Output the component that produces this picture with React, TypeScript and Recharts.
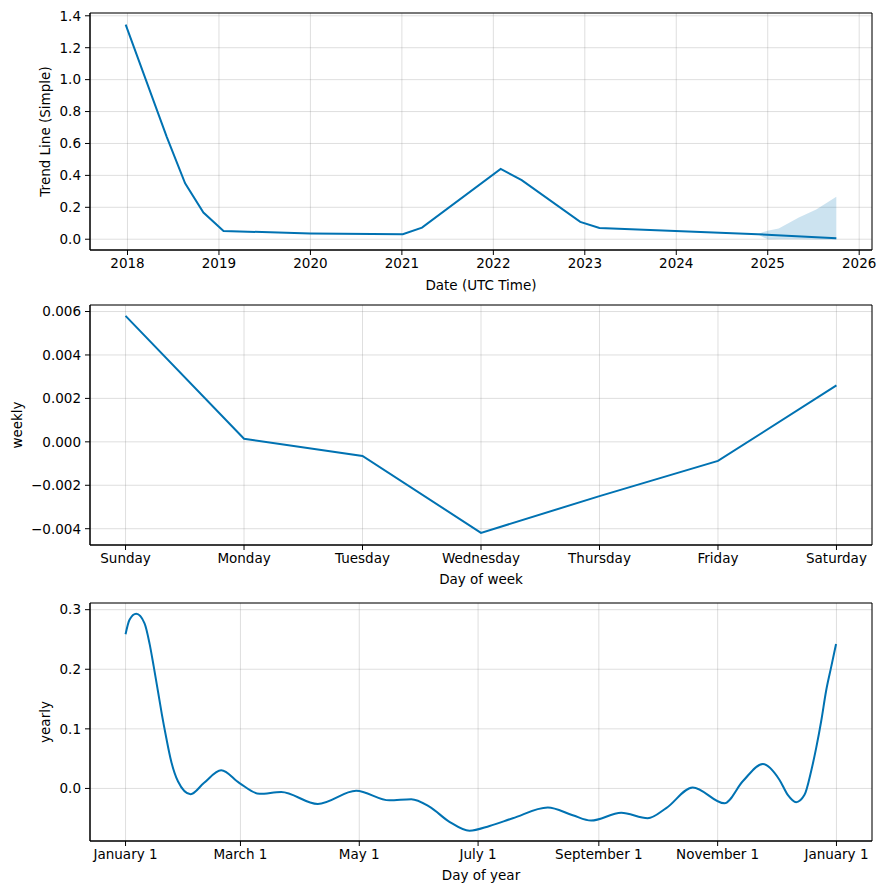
import {
  ComposedChart,
  LineChart,
  Line,
  Area,
  XAxis,
  YAxis,
  CartesianGrid,
  ReferenceArea,
} from 'recharts';

// trend component (decimal years)
const trendYears = [2017.98, 2018.43, 2018.63, 2018.83, 2019.05, 2020.0, 2021.01, 2021.22, 2022.08, 2022.31, 2022.95, 2023.16, 2024.89, 2025.75];
const trendValues = [1.345, 0.64, 0.35, 0.167, 0.052, 0.036, 0.031, 0.073, 0.441, 0.37, 0.109, 0.071, 0.031, 0.006];

// forecast uncertainty on the trend
const bandYears = [2024.89, 2024.95, 2025.01, 2025.12, 2025.34, 2025.53, 2025.75];
const bandLower = [0.031, 0.012, -0.002, 0.0, 0.0, -0.001, -0.002];
const bandUpper = [0.031, 0.045, 0.055, 0.067, 0.136, 0.186, 0.266];

const yearTicks = [2018, 2019, 2020, 2021, 2022, 2023, 2024, 2025, 2026];
const trendTicks = [0, 0.2, 0.4, 0.6, 0.8, 1.0, 1.2, 1.4];

// weekly component
const weekDays = ['Sunday', 'Monday', 'Tuesday', 'Wednesday', 'Thursday', 'Friday', 'Saturday'];
const weeklyValues = [0.0058, 0.00014, -0.00065, -0.00419, -0.0025, -0.00088, 0.0026];
const weeklyTicks = [-0.004, -0.002, 0, 0.002, 0.004, 0.006];

// yearly component (day of year)
const yearlyDays = [0, 2.05, 5.5, 9.75, 12.3, 14.5, 16.6, 18.6, 20.9, 23.4, 26.9, 33.4, 40.2, 49.1, 58.5, 68.8, 79.9, 98.7, 118.4, 135.5, 146.7, 156, 166.3, 176.6, 186.9, 198.8, 216.8, 229.6, 239, 254.5, 268.1, 277.6, 291.2, 307.5, 316.9, 327.2, 335.7, 340, 344.3, 348.6, 352, 354.6, 357.2, 359.7, 362.3, 364.8];
const yearlyValues = [0.2588, 0.283, 0.293, 0.277, 0.2435, 0.204, 0.164, 0.125, 0.085, 0.046, 0.012, -0.0097, 0.009, 0.0305, 0.009, -0.009, -0.006, -0.026, -0.004, -0.02, -0.018, -0.0305, -0.056, -0.071, -0.063, -0.05, -0.032, -0.045, -0.054, -0.041, -0.05, -0.033, 0.0017, -0.025, 0.012, 0.041, 0.0147, -0.0107, -0.023, -0.0107, 0.029, 0.068, 0.1136, 0.164, 0.204, 0.2424];
const monthTickDays = [0, 59, 120, 181, 243, 304, 365];
const monthTickLabels = ['January 1', 'March 1', 'May 1', 'July 1', 'September 1', 'November 1', 'January 1'];
const yearlyTicks = [0, 0.1, 0.2, 0.3];

const trendData = trendYears.map((x, i) => ({ x, y: trendValues[i] }));
const bandData = bandYears.map((x, i) => ({ x, range: [bandLower[i], bandUpper[i]] }));
const weeklyData = weeklyValues.map((y, i) => ({ x: i, y }));
const yearlyData = yearlyDays.map((x, i) => ({ x, y: yearlyValues[i] }));

const BLUE = '#0072B2';
const W = 888;
const FONT = 13.5;
const tickStyle = { fontSize: FONT, fill: '#000' };
const labelStyle = { fontSize: FONT, fill: '#000', textAnchor: 'middle' as const };
const margin = (top: number) => ({ top, right: 16, bottom: 0, left: 0 });

const fmt = (digits: number) => (v: number) => {
  const s = Math.abs(v).toFixed(digits);
  return v < -1e-12 ? '\u2212' + s : s;
};

const trendX: [number, number] = [2017.59, 2026.14];
const trendY: [number, number] = [-0.0675, 1.4175];
const weekX: [number, number] = [-0.3, 6.3];
const weekY: [number, number] = [-0.00475, 0.0063];
const dayX: [number, number] = [-18.25, 383.25];
const dayY: [number, number] = [-0.0882, 0.3112];

const axisCommon = {
  type: 'number' as const,
  allowDataOverflow: true,
  tick: tickStyle,
  tickSize: 5,
  axisLine: { stroke: '#000' },
  tickLine: { stroke: '#000' },
};

function Frame({ x, y }: { x: [number, number]; y: [number, number] }) {
  return <ReferenceArea x1={x[0]} x2={x[1]} y1={y[0]} y2={y[1]} fill="none" stroke="#000" strokeWidth={1} ifOverflow="visible" />;
}

export default function App() {
  return (
    <div style={{ position: 'absolute', left: 0, top: 0, width: W, height: 893, background: '#fff', fontFamily: '"DejaVu Sans", sans-serif' }}>
      <div style={{ position: 'absolute', left: 0, top: 0 }}>
        <ComposedChart width={W} height={300} margin={margin(13)}>
          <CartesianGrid stroke="#808080" strokeOpacity={0.25} />
          <XAxis
            {...axisCommon}
            dataKey="x"
            domain={trendX}
            ticks={yearTicks}
            tickMargin={3}
            height={50}
            label={{ value: 'Date (UTC Time)', position: 'insideBottom', offset: 10, style: labelStyle }}
          />
          <YAxis
            {...axisCommon}
            domain={trendY}
            ticks={trendTicks}
            tickFormatter={fmt(1)}
            tickMargin={4}
            width={90}
            label={{ value: 'Trend Line (Simple)', angle: -90, position: 'insideLeft', offset: 45, style: labelStyle }}
          />
          <Area data={bandData} dataKey="range" type="linear" fill={BLUE} fillOpacity={0.2} stroke="none" isAnimationActive={false} />
          <Line data={trendData} dataKey="y" type="linear" stroke={BLUE} strokeWidth={2} dot={false} isAnimationActive={false} />
          <Frame x={trendX} y={trendY} />
        </ComposedChart>
      </div>
      <div style={{ position: 'absolute', left: 0, top: 300 }}>
        <LineChart width={W} height={295} data={weeklyData} margin={margin(5)}>
          <CartesianGrid stroke="#808080" strokeOpacity={0.25} />
          <XAxis
            {...axisCommon}
            dataKey="x"
            domain={weekX}
            ticks={[0, 1, 2, 3, 4, 5, 6]}
            tickFormatter={(v: number) => weekDays[v]}
            tickMargin={3}
            height={50}
            label={{ value: 'Day of week', position: 'insideBottom', offset: 11, style: labelStyle }}
          />
          <YAxis
            {...axisCommon}
            domain={weekY}
            ticks={weeklyTicks}
            tickFormatter={fmt(3)}
            tickMargin={4}
            width={90}
            label={{ value: 'weekly', angle: -90, position: 'insideLeft', offset: 17, style: labelStyle }}
          />
          <Line dataKey="y" type="linear" stroke={BLUE} strokeWidth={2} dot={false} isAnimationActive={false} />
          <Frame x={weekX} y={weekY} />
        </LineChart>
      </div>
      <div style={{ position: 'absolute', left: 0, top: 595 }}>
        <LineChart width={W} height={296} data={yearlyData} margin={margin(8)}>
          <CartesianGrid stroke="#808080" strokeOpacity={0.25} />
          <XAxis
            {...axisCommon}
            dataKey="x"
            domain={dayX}
            ticks={monthTickDays}
            tickFormatter={(v: number, i: number) => monthTickLabels[i]}
            tickMargin={3}
            height={50}
            label={{ value: 'Day of year', position: 'insideBottom', offset: 11, style: labelStyle }}
          />
          <YAxis
            {...axisCommon}
            domain={dayY}
            ticks={yearlyTicks}
            tickFormatter={fmt(1)}
            tickMargin={4}
            width={90}
            label={{ value: 'yearly', angle: -90, position: 'insideLeft', offset: 45, style: labelStyle }}
          />
          <Line dataKey="y" type="monotoneX" stroke={BLUE} strokeWidth={2} dot={false} isAnimationActive={false} />
          <Frame x={dayX} y={dayY} />
        </LineChart>
      </div>
    </div>
  );
}
